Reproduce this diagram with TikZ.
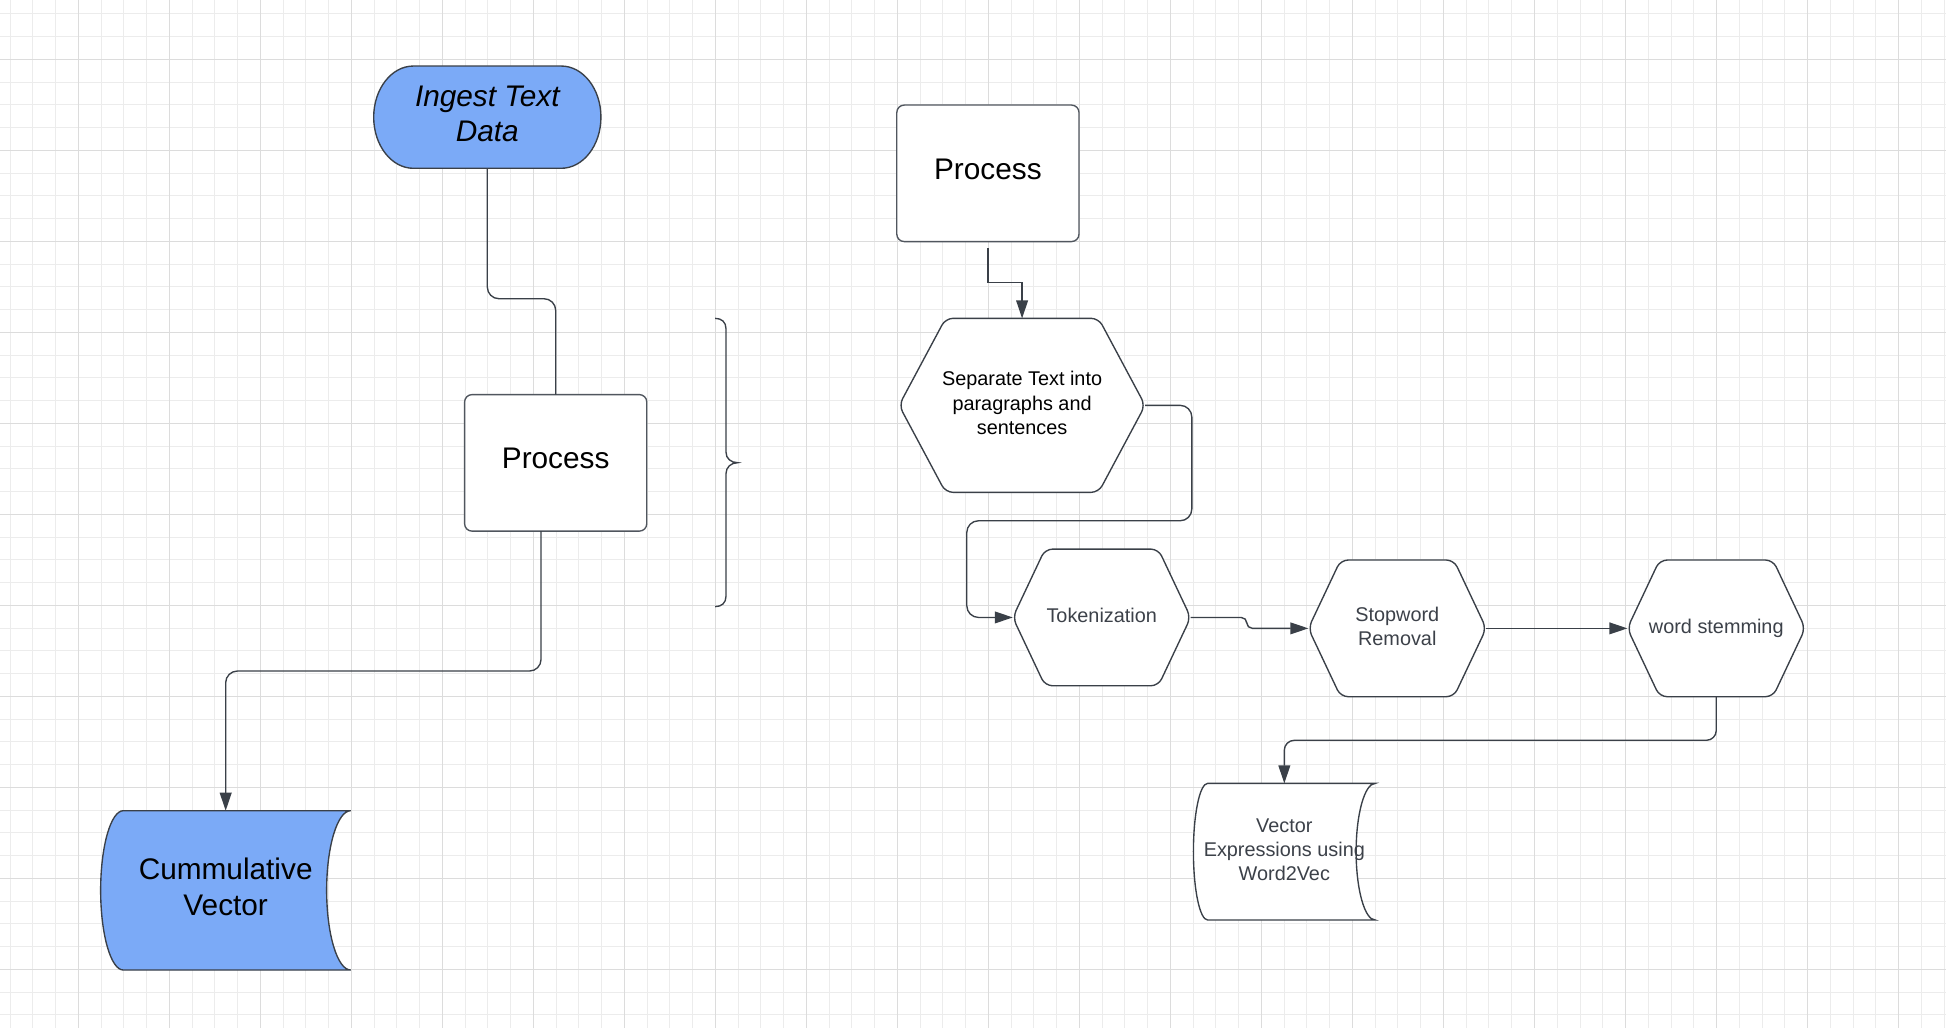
\documentclass[tikz,border=0pt]{standalone}
\usepackage{fontspec}
\setmainfont{Liberation Sans}
\usetikzlibrary{arrows.meta,calc}
\pgfdeclarelayer{gridlayer}
\pgfdeclarelayer{shapelayer}
\pgfsetlayers{gridlayer,shapelayer,main}
\definecolor{bluefill}{RGB}{123,170,247}
\definecolor{lineclr}{RGB}{58,64,72}
\definecolor{txtgray}{RGB}{60,65,73}
\definecolor{gridminor}{RGB}{236,236,236}
\definecolor{gridmajor}{RGB}{220,220,220}
\definecolor{boxline}{RGB}{80,86,94}
\tikzset{
  box/.style={inner sep=0pt, outer sep=0pt, align=center},
  shapeline/.style={draw=lineclr, line width=1.1pt},
  procbox/.style={box, draw=boxline, fill=white, line width=1.1pt, rounded corners=6pt,
    minimum width=146.8pt, minimum height=110pt, font=\fontsize{24}{23.5}\selectfont},
  hexbox/.style={box, minimum width=143.3pt, minimum height=110.1pt, font=\fontsize{16}{19.6}\selectfont, text=txtgray},
  conn/.style={draw=lineclr, line width=1.1pt},
  arr/.style={conn, -{Triangle[length=14.5pt,width=9.5pt]}},
}
\newcommand\drawhex[2]{%
  \draw[shapeline, fill=white, rounded corners=6pt] (#1.north) -- ($(#1.north east)+(-#2,0)$) -- (#1.east)
    -- ($(#1.south east)+(-#2,0)$) -- ($(#1.south west)+(#2,0)$) -- (#1.west)
    -- ($(#1.north west)+(#2,0)$) -- cycle;}
\newcommand\drawstore[5]{%
  \pgfmathsetmacro\stA{#2-0.5523*#2}%
  \pgfmathsetmacro\stB{0.5523*#3}%
  \pgfmathsetmacro\stH{0.5523*#4}%
  \draw[shapeline, fill=#5] ($(#1.north west)+(#2,0)$) -- (#1.north east)
    .. controls ($(#1.north east)+(-\stB,0)$) and ($(#1.east)+(-#3,-\stH)$) .. ($(#1.east)+(-#3,0)$)
    .. controls ($(#1.east)+(-#3,\stH)$) and ($(#1.south east)+(-\stB,0)$) .. (#1.south east)
    -- ($(#1.south west)+(#2,0)$)
    .. controls ($(#1.south west)+(\stA,0)$) and ($(#1.west)+(0,\stH)$) .. (#1.west)
    .. controls ($(#1.west)+(0,-\stH)$) and ($(#1.north west)+(\stA,0)$) .. ($(#1.north west)+(#2,0)$)
    -- cycle;}
\begin{document}
\begin{tikzpicture}[x=1pt,y=-1pt]
\useasboundingbox (0,0) rectangle (1568,828.3);
% grid
\begin{pgfonlayer}{gridlayer}
  \fill[white] (0,0) rectangle (1568,828.3);
  \foreach \i in {0,...,85} \draw[gridminor, line width=0.8pt] ({8.1+\i*18.333},0) -- ++(0,828.3);
  \foreach \i in {0,...,44} \draw[gridminor, line width=0.8pt] (0,{11.1+\i*18.333}) -- ++(1568,0);
  \foreach \i in {0,...,20} \draw[gridmajor, line width=0.9pt] ({63.1+\i*73.333},0) -- ++(0,828.3);
  \foreach \i in {0,...,10} \draw[gridmajor, line width=0.9pt] (0,{47.8+\i*73.333}) -- ++(1568,0);
\end{pgfonlayer}

% nodes
\node[box, minimum width=183.1pt, minimum height=82.4pt, font=\fontsize{24}{28}\selectfont\itshape] (ingest) at (392.65,94.4) {\strut Ingest Text\\\strut Data};
\node[procbox] (procA) at (447.75,372.95) {\strut Process};
\node[procbox] (procB) at (796,139.65) {\strut Process};
\node[box, minimum width=201.5pt, minimum height=128.4pt, font=\fontsize{24}{28.7}\selectfont] (cum) at (181.85,717.4) {\strut Cummulative\\\strut Vector};
\node[hexbox, minimum width=198.3pt, minimum height=140.2pt, text=black] (sep) at (823.55,326.6) {\strut Separate Text into\\\strut paragraphs and\\\strut sentences};
\node[hexbox] (tok) at (887.7,497.5) {\strut Tokenization};
\node[hexbox] (stop) at (1125.85,506.3) {\strut Stopword\\\strut Removal};
\node[hexbox] (stem) at (1382.9,506.3) {\strut word stemming};
\node[hexbox, minimum width=146.5pt] (vec) at (1034.85,686.25) {\strut Vector\\\strut Expressions using\\\strut Word2Vec};

% shapes
\begin{pgfonlayer}{shapelayer}
  \draw[shapeline, fill=bluefill]
    ($(ingest.north west)+(32,0)$) -- ($(ingest.north east)+(-32,0)$)
    .. controls ($(ingest.north east)+(-14.33,0)$) and ($(ingest.east)+(0,-22.76)$) .. (ingest.east)
    .. controls ($(ingest.east)+(0,22.76)$) and ($(ingest.south east)+(-14.33,0)$) .. ($(ingest.south east)+(-32,0)$)
    -- ($(ingest.south west)+(32,0)$)
    .. controls ($(ingest.south west)+(14.33,0)$) and ($(ingest.west)+(0,22.76)$) .. (ingest.west)
    .. controls ($(ingest.west)+(0,-22.76)$) and ($(ingest.north west)+(14.33,0)$) .. ($(ingest.north west)+(32,0)$)
    -- cycle;
  \drawstore{cum}{18.3}{19.4}{64.2}{bluefill}
  \drawstore{vec}{11.5}{15.4}{55.05}{white}
  \drawhex{sep}{37.5}
  \drawhex{tok}{26}
  \drawhex{stop}{26}
  \drawhex{stem}{26}
\end{pgfonlayer}

% brace
\draw[conn] (576.2,256.5) .. controls (581.5,256.5) and (585,259.5) .. (585,265)
  -- (585,364.5) .. controls (585,369.5) and (589,372.8) .. (594.4,372.8)
  .. controls (589,372.8) and (585,376.5) .. (585,381.5)
  -- (585,480.3) .. controls (585,485.8) and (581.5,488.8) .. (576.2,488.8);

% connectors
\coordinate (a1) at (0,240.7);
\draw[conn, rounded corners=9.4pt] (ingest.south) |- (procA.north |- a1) -- (procA.north);

\coordinate (b0) at ($(procA.south)+(-11.8,0)$);
\coordinate (b1) at (0,540.7);
\draw[arr, rounded corners=9.4pt] (b0) -- (b0 |- b1) -| (cum.north);

\coordinate (c0) at ($(procB.south)+(0,5.4)$);
\coordinate (c1) at (0,227.8);
\draw[arr] (c0) -- (c0 |- c1) -| (sep.north);

\coordinate (d1) at (960.3,0);
\coordinate (d2) at (0,419.6);
\coordinate (d3) at (779,0);
\draw[arr, rounded corners=9.4pt] (sep.east) -| (d1 |- d2) -| (d3 |- tok.west) -- (tok.west);

\coordinate (e1) at (1004.6,0);
\draw[arr, rounded corners=4.5pt] (tok.east) -| (e1 |- stop.west) -- (stop.west);

\draw[arr] (stop.east) -- (stem.west);

\coordinate (g1) at (0,596.5);
\draw[arr, rounded corners=8pt] (stem.south) |- (vec.north |- g1) -- (vec.north);
\end{tikzpicture}
\end{document}
